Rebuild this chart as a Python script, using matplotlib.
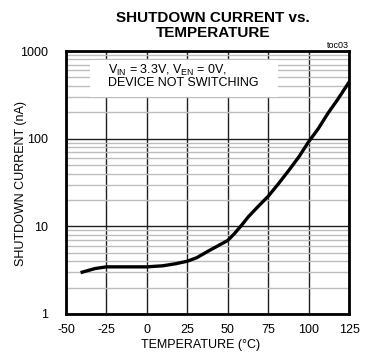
import matplotlib
matplotlib.use("Agg")
import matplotlib.pyplot as plt
from matplotlib.patches import Rectangle
from matplotlib.ticker import FixedLocator, NullFormatter

# data
temperature = [-40, -32, -25, -12, 0, 10, 18, 25, 31, 37, 44, 50, 54, 58,
               63, 69, 75, 81, 88, 94, 100, 106, 112, 118, 125]
current_nA = [3.0, 3.3, 3.45, 3.45, 3.45, 3.55, 3.75, 4.0, 4.4, 5.1, 6.0,
              6.9, 8.2, 10, 13, 17, 22, 30, 44, 62, 92, 130, 195, 280, 440]
x_ticks = [-50, -25, 0, 25, 50, 75, 100, 125]
y_ticks = [1, 10, 100, 1000]
y_tick_labels = ['1', '10', '100', '1000']

plt.rcParams['font.family'] = ['Liberation Sans', 'DejaVu Sans']
plt.rcParams['mathtext.default'] = 'regular'
plt.rcParams['axes.unicode_minus'] = False

W, H = 365, 360
fig = plt.figure(figsize=(W / 100, H / 100), dpi=100)
ax = fig.add_axes([66 / W, (H - 314) / H, 283 / W, 263 / H])

ax.plot(temperature, current_nA, color='black', linewidth=2.4, zorder=3)

ax.set_yscale('log')
ax.set_xlim(-50, 125)
ax.set_ylim(1, 1000)
ax.set_xticks(x_ticks)
ax.set_yticks(y_ticks)
ax.set_yticklabels(y_tick_labels)
ax.yaxis.set_minor_locator(FixedLocator(
    [m * d for d in (1, 10, 100) for m in range(2, 10)]))
ax.yaxis.set_minor_formatter(NullFormatter())
ax.tick_params(which='both', length=0, labelsize=9)
ax.tick_params(axis='y', pad=13)
ax.tick_params(axis='x', pad=7)

ax.set_axisbelow(True)
ax.grid(which='minor', axis='y', color='#bdbdbd', linewidth=1.0)
ax.grid(which='major', axis='both', color='#202020', linewidth=1.0)
for sp in ax.spines.values():
    sp.set_linewidth(2.0)

# white box behind the condition text
ax.add_patch(Rectangle((0.085, 0.825), 0.664, 0.141, transform=ax.transAxes,
                       facecolor='white', edgecolor='none', zorder=1))
ax.text(0.148, 0.955, 'V$_{IN}$ = 3.3V, V$_{EN}$ = 0V,\nDEVICE NOT SWITCHING',
        transform=ax.transAxes, fontsize=9, va='top', ha='left',
        linespacing=0.95, zorder=2)

fig.text(201 / W, 1 - 345 / H, 'TEMPERATURE (°C)', ha='center',
         va='center', fontsize=9)
fig.text(21 / W, 1 - 183 / H, 'SHUTDOWN CURRENT (nA)', ha='center',
         va='center', rotation=90, fontsize=9)

fig.text(213 / W, 1 - 11 / H, 'SHUTDOWN CURRENT vs.\nTEMPERATURE',
         ha='center', va='top', fontsize=11, fontweight='bold',
         linespacing=1.1)
fig.text(349 / W, 1 - 45 / H, 'toc03', ha='right', va='center', fontsize=6.5)

fig.savefig('out.png', dpi=100)
